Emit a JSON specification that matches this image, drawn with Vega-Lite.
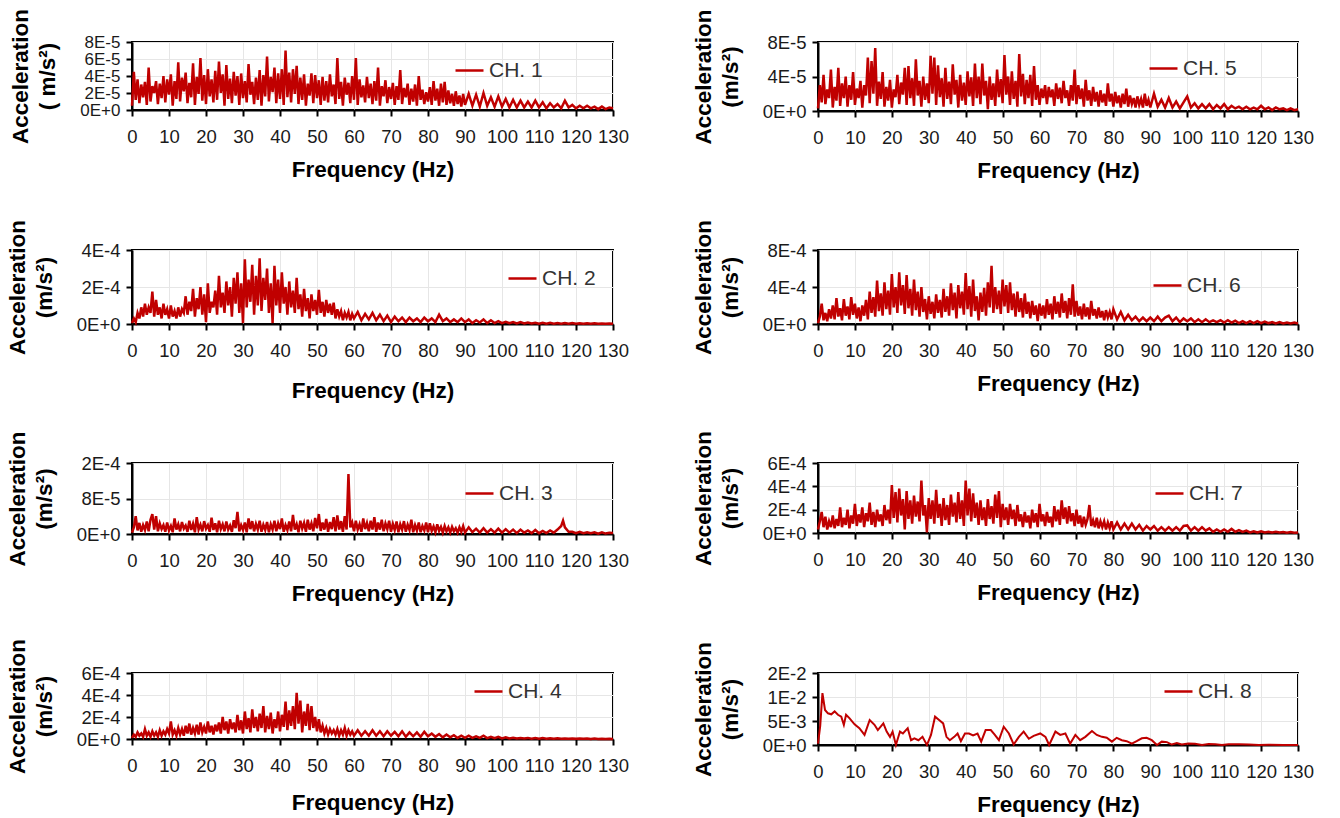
{
"$schema":"https://vega.github.io/schema/vega-lite/v6.json",
"background":"white",
"padding":{"left":5,"right":5,"top":7,"bottom":0},
"config":{
 "font":"Liberation Sans",
 "view":{"stroke":"#000","strokeWidth":2},
 "axis":{"labelFont":"Liberation Sans","labelFontSize":18.5,"labelColor":"#1a1a1a","titleFont":"Liberation Sans","titleFontSize":22.5,"titleFontWeight":"bold","titleColor":"#000","domainColor":"#000","domainWidth":2,"tickColor":"#000","tickWidth":2,"tickSize":6,"gridColor":"#e6e6e6","gridWidth":1,"labelOverlap":false,"labelFlush":false},
 "axisX":{"labelPadding":11,"titlePadding":13},
 "axisY":{"labelPadding":6,"titlePadding":20,"titleLineHeight":27},
 "legend":{"labelFont":"Liberation Sans","labelFontSize":21,"labelColor":"#333","symbolType":"stroke","symbolSize":784,"symbolStrokeWidth":2.5,"padding":0,"labelOffset":4}
},
"datasets":{
"c1":[{"f":0,"a":5e-6},{"f":0.5,"a":45e-6},{"f":1,"a":12e-6},{"f":1.5,"a":36e-6},{"f":2,"a":8e-6},{"f":2.5,"a":30e-6},{"f":3,"a":15e-6},{"f":3.5,"a":33e-6},{"f":4,"a":6e-6},{"f":4.5,"a":50e-6},{"f":5,"a":10e-6},{"f":5.5,"a":28e-6},{"f":6,"a":20e-6},{"f":6.5,"a":34e-6},{"f":7,"a":7e-6},{"f":7.5,"a":31e-6},{"f":8,"a":14e-6},{"f":8.5,"a":40e-6},{"f":9,"a":9e-6},{"f":9.5,"a":36e-6},{"f":10,"a":18e-6},{"f":10.5,"a":42e-6},{"f":11,"a":5e-6},{"f":11.5,"a":34e-6},{"f":12,"a":13e-6},{"f":12.5,"a":56e-6},{"f":13,"a":10e-6},{"f":13.5,"a":38e-6},{"f":14,"a":22e-6},{"f":14.5,"a":44e-6},{"f":15,"a":8e-6},{"f":15.5,"a":32e-6},{"f":16,"a":15e-6},{"f":16.5,"a":55e-6},{"f":17,"a":6e-6},{"f":17.5,"a":39e-6},{"f":18,"a":19e-6},{"f":18.5,"a":61e-6},{"f":19,"a":11e-6},{"f":19.5,"a":41e-6},{"f":20,"a":7e-6},{"f":20.5,"a":48e-6},{"f":21,"a":16e-6},{"f":21.5,"a":36e-6},{"f":22,"a":9e-6},{"f":22.5,"a":46e-6},{"f":23,"a":12e-6},{"f":23.5,"a":57e-6},{"f":24,"a":20e-6},{"f":24.5,"a":42e-6},{"f":25,"a":5e-6},{"f":25.5,"a":53e-6},{"f":26,"a":13e-6},{"f":26.5,"a":37e-6},{"f":27,"a":8e-6},{"f":27.5,"a":45e-6},{"f":28,"a":17e-6},{"f":28.5,"a":40e-6},{"f":29,"a":6e-6},{"f":29.5,"a":43e-6},{"f":30,"a":14e-6},{"f":30.5,"a":34e-6},{"f":31,"a":9e-6},{"f":31.5,"a":54e-6},{"f":32,"a":18e-6},{"f":32.5,"a":33e-6},{"f":33,"a":7e-6},{"f":33.5,"a":38e-6},{"f":34,"a":12e-6},{"f":34.5,"a":47e-6},{"f":35,"a":5e-6},{"f":35.5,"a":41e-6},{"f":36,"a":16e-6},{"f":36.5,"a":63e-6},{"f":37,"a":10e-6},{"f":37.5,"a":39e-6},{"f":38,"a":21e-6},{"f":38.5,"a":50e-6},{"f":39,"a":8e-6},{"f":39.5,"a":43e-6},{"f":40,"a":13e-6},{"f":40.5,"a":48e-6},{"f":41,"a":6e-6},{"f":41.5,"a":70e-6},{"f":42,"a":15e-6},{"f":42.5,"a":44e-6},{"f":43,"a":9e-6},{"f":43.5,"a":48e-6},{"f":44,"a":19e-6},{"f":44.5,"a":52e-6},{"f":45,"a":7e-6},{"f":45.5,"a":38e-6},{"f":46,"a":12e-6},{"f":46.5,"a":42e-6},{"f":47,"a":5e-6},{"f":47.5,"a":31e-6},{"f":48,"a":17e-6},{"f":48.5,"a":43e-6},{"f":49,"a":8e-6},{"f":49.5,"a":41e-6},{"f":50,"a":14e-6},{"f":50.5,"a":35e-6},{"f":51,"a":6e-6},{"f":51.5,"a":39e-6},{"f":52,"a":11e-6},{"f":52.5,"a":34e-6},{"f":53,"a":9e-6},{"f":53.5,"a":42e-6},{"f":54,"a":16e-6},{"f":54.5,"a":30e-6},{"f":55,"a":7e-6},{"f":55.5,"a":61e-6},{"f":56,"a":13e-6},{"f":56.5,"a":33e-6},{"f":57,"a":5e-6},{"f":57.5,"a":38e-6},{"f":58,"a":18e-6},{"f":58.5,"a":32e-6},{"f":59,"a":8e-6},{"f":59.5,"a":40e-6},{"f":60,"a":12e-6},{"f":60.5,"a":61e-6},{"f":61,"a":6e-6},{"f":61.5,"a":36e-6},{"f":62,"a":15e-6},{"f":62.5,"a":29e-6},{"f":63,"a":9e-6},{"f":63.5,"a":39e-6},{"f":64,"a":14e-6},{"f":64.5,"a":31e-6},{"f":65,"a":7e-6},{"f":65.5,"a":34e-6},{"f":66,"a":11e-6},{"f":66.5,"a":50e-6},{"f":67,"a":5e-6},{"f":67.5,"a":28e-6},{"f":68,"a":16e-6},{"f":68.5,"a":35e-6},{"f":69,"a":8e-6},{"f":69.5,"a":27e-6},{"f":70,"a":13e-6},{"f":70.5,"a":32e-6},{"f":71,"a":6e-6},{"f":71.5,"a":28e-6},{"f":72,"a":12e-6},{"f":72.5,"a":47e-6},{"f":73,"a":7e-6},{"f":73.5,"a":26e-6},{"f":74,"a":15e-6},{"f":74.5,"a":31e-6},{"f":75,"a":6e-6},{"f":75.5,"a":25e-6},{"f":76,"a":10e-6},{"f":76.5,"a":30e-6},{"f":77,"a":5e-6},{"f":77.5,"a":40e-6},{"f":78,"a":12e-6},{"f":78.5,"a":24e-6},{"f":79,"a":7e-6},{"f":79.5,"a":21e-6},{"f":80,"a":10e-6},{"f":80.5,"a":27e-6},{"f":81,"a":6e-6},{"f":81.5,"a":34e-6},{"f":82,"a":11e-6},{"f":82.5,"a":25e-6},{"f":83,"a":5e-6},{"f":83.5,"a":31e-6},{"f":84,"a":9e-6},{"f":84.5,"a":33e-6},{"f":85,"a":6e-6},{"f":85.5,"a":23e-6},{"f":86,"a":8e-6},{"f":86.5,"a":19e-6},{"f":87,"a":5e-6},{"f":87.5,"a":22e-6},{"f":88,"a":7e-6},{"f":88.5,"a":17e-6},{"f":89,"a":4e-6},{"f":89.5,"a":19e-6},{"f":90,"a":6e-6},{"f":91,"a":19e-6},{"f":92,"a":5e-6},{"f":93,"a":18e-6},{"f":94,"a":4e-6},{"f":95,"a":20e-6},{"f":96,"a":5e-6},{"f":97,"a":15e-6},{"f":98,"a":4e-6},{"f":99,"a":16e-6},{"f":100,"a":4e-6},{"f":101,"a":13e-6},{"f":102,"a":3e-6},{"f":103,"a":12e-6},{"f":104,"a":3e-6},{"f":105,"a":11e-6},{"f":106,"a":3e-6},{"f":107,"a":10e-6},{"f":108,"a":3e-6},{"f":109,"a":11e-6},{"f":110,"a":3e-6},{"f":111,"a":9e-6},{"f":112,"a":2e-6},{"f":113,"a":8e-6},{"f":114,"a":3e-6},{"f":115,"a":7e-6},{"f":116,"a":2e-6},{"f":117,"a":11e-6},{"f":118,"a":3e-6},{"f":119,"a":6e-6},{"f":120,"a":2e-6},{"f":121,"a":5e-6},{"f":122,"a":2e-6},{"f":123,"a":5e-6},{"f":124,"a":2e-6},{"f":125,"a":4e-6},{"f":126,"a":1e-6},{"f":127,"a":4e-6},{"f":128,"a":1e-6},{"f":129,"a":3e-6},{"f":130,"a":2e-6}],
"c5":[{"f":0,"a":3e-6},{"f":0.5,"a":30e-6},{"f":1,"a":10e-6},{"f":1.5,"a":42e-6},{"f":2,"a":8e-6},{"f":2.5,"a":25e-6},{"f":3,"a":15e-6},{"f":3.5,"a":48e-6},{"f":4,"a":4e-6},{"f":4.5,"a":28e-6},{"f":5,"a":12e-6},{"f":5.5,"a":50e-6},{"f":6,"a":6e-6},{"f":6.5,"a":32e-6},{"f":7,"a":15e-6},{"f":7.5,"a":40e-6},{"f":8,"a":5e-6},{"f":8.5,"a":30e-6},{"f":9,"a":13e-6},{"f":9.5,"a":45e-6},{"f":10,"a":7e-6},{"f":10.5,"a":26e-6},{"f":11,"a":15e-6},{"f":11.5,"a":35e-6},{"f":12,"a":4e-6},{"f":12.5,"a":30e-6},{"f":13,"a":18e-6},{"f":13.5,"a":62e-6},{"f":14,"a":9e-6},{"f":14.5,"a":58e-6},{"f":15,"a":20e-6},{"f":15.5,"a":73e-6},{"f":16,"a":6e-6},{"f":16.5,"a":34e-6},{"f":17,"a":14e-6},{"f":17.5,"a":45e-6},{"f":18,"a":5e-6},{"f":18.5,"a":28e-6},{"f":19,"a":12e-6},{"f":19.5,"a":36e-6},{"f":20,"a":4e-6},{"f":20.5,"a":25e-6},{"f":21,"a":16e-6},{"f":21.5,"a":42e-6},{"f":22,"a":8e-6},{"f":22.5,"a":33e-6},{"f":23,"a":19e-6},{"f":23.5,"a":50e-6},{"f":24,"a":7e-6},{"f":24.5,"a":52e-6},{"f":25,"a":15e-6},{"f":25.5,"a":38e-6},{"f":26,"a":6e-6},{"f":26.5,"a":60e-6},{"f":27,"a":18e-6},{"f":27.5,"a":35e-6},{"f":28,"a":5e-6},{"f":28.5,"a":40e-6},{"f":29,"a":13e-6},{"f":29.5,"a":32e-6},{"f":30,"a":9e-6},{"f":30.5,"a":64e-6},{"f":31,"a":20e-6},{"f":31.5,"a":62e-6},{"f":32,"a":7e-6},{"f":32.5,"a":53e-6},{"f":33,"a":16e-6},{"f":33.5,"a":38e-6},{"f":34,"a":5e-6},{"f":34.5,"a":50e-6},{"f":35,"a":14e-6},{"f":35.5,"a":34e-6},{"f":36,"a":8e-6},{"f":36.5,"a":54e-6},{"f":37,"a":19e-6},{"f":37.5,"a":36e-6},{"f":38,"a":4e-6},{"f":38.5,"a":42e-6},{"f":39,"a":12e-6},{"f":39.5,"a":33e-6},{"f":40,"a":7e-6},{"f":40.5,"a":46e-6},{"f":41,"a":17e-6},{"f":41.5,"a":39e-6},{"f":42,"a":6e-6},{"f":42.5,"a":55e-6},{"f":43,"a":15e-6},{"f":43.5,"a":40e-6},{"f":44,"a":8e-6},{"f":44.5,"a":55e-6},{"f":45,"a":18e-6},{"f":45.5,"a":35e-6},{"f":46,"a":2e-6},{"f":46.5,"a":40e-6},{"f":47,"a":13e-6},{"f":47.5,"a":32e-6},{"f":48,"a":6e-6},{"f":48.5,"a":48e-6},{"f":49,"a":16e-6},{"f":49.5,"a":37e-6},{"f":50,"a":9e-6},{"f":50.5,"a":65e-6},{"f":51,"a":19e-6},{"f":51.5,"a":40e-6},{"f":52,"a":7e-6},{"f":52.5,"a":46e-6},{"f":53,"a":14e-6},{"f":53.5,"a":35e-6},{"f":54,"a":5e-6},{"f":54.5,"a":66e-6},{"f":55,"a":17e-6},{"f":55.5,"a":43e-6},{"f":56,"a":8e-6},{"f":56.5,"a":36e-6},{"f":57,"a":15e-6},{"f":57.5,"a":42e-6},{"f":58,"a":6e-6},{"f":58.5,"a":52e-6},{"f":59,"a":13e-6},{"f":59.5,"a":30e-6},{"f":60,"a":7e-6},{"f":60.5,"a":26e-6},{"f":61,"a":15e-6},{"f":61.5,"a":30e-6},{"f":62,"a":8e-6},{"f":62.5,"a":28e-6},{"f":63,"a":16e-6},{"f":63.5,"a":25e-6},{"f":64,"a":6e-6},{"f":64.5,"a":32e-6},{"f":65,"a":14e-6},{"f":65.5,"a":27e-6},{"f":66,"a":9e-6},{"f":66.5,"a":35e-6},{"f":67,"a":15e-6},{"f":67.5,"a":24e-6},{"f":68,"a":6e-6},{"f":68.5,"a":30e-6},{"f":69,"a":12e-6},{"f":69.5,"a":48e-6},{"f":70,"a":8e-6},{"f":70.5,"a":30e-6},{"f":71,"a":14e-6},{"f":71.5,"a":26e-6},{"f":72,"a":5e-6},{"f":72.5,"a":36e-6},{"f":73,"a":12e-6},{"f":73.5,"a":24e-6},{"f":74,"a":6e-6},{"f":74.5,"a":28e-6},{"f":75,"a":11e-6},{"f":75.5,"a":22e-6},{"f":76,"a":5e-6},{"f":76.5,"a":24e-6},{"f":77,"a":10e-6},{"f":77.5,"a":20e-6},{"f":78,"a":6e-6},{"f":78.5,"a":32e-6},{"f":79,"a":11e-6},{"f":79.5,"a":20e-6},{"f":80,"a":5e-6},{"f":80.5,"a":22e-6},{"f":81,"a":9e-6},{"f":81.5,"a":18e-6},{"f":82,"a":4e-6},{"f":82.5,"a":20e-6},{"f":83,"a":8e-6},{"f":83.5,"a":26e-6},{"f":84,"a":5e-6},{"f":84.5,"a":18e-6},{"f":85,"a":8e-6},{"f":85.5,"a":15e-6},{"f":86,"a":4e-6},{"f":86.5,"a":17e-6},{"f":87,"a":7e-6},{"f":87.5,"a":14e-6},{"f":88,"a":4e-6},{"f":88.5,"a":20e-6},{"f":89,"a":6e-6},{"f":89.5,"a":13e-6},{"f":90,"a":4e-6},{"f":91,"a":20e-6},{"f":92,"a":5e-6},{"f":93,"a":13e-6},{"f":94,"a":4e-6},{"f":95,"a":15e-6},{"f":96,"a":4e-6},{"f":97,"a":11e-6},{"f":98,"a":3e-6},{"f":99,"a":10e-6},{"f":100,"a":17e-6},{"f":101,"a":4e-6},{"f":102,"a":9e-6},{"f":103,"a":3e-6},{"f":104,"a":8e-6},{"f":105,"a":3e-6},{"f":106,"a":8e-6},{"f":107,"a":2e-6},{"f":108,"a":7e-6},{"f":109,"a":3e-6},{"f":110,"a":8e-6},{"f":111,"a":2e-6},{"f":112,"a":6e-6},{"f":113,"a":3e-6},{"f":114,"a":5e-6},{"f":115,"a":2e-6},{"f":116,"a":5e-6},{"f":117,"a":2e-6},{"f":118,"a":4e-6},{"f":119,"a":2e-6},{"f":120,"a":6e-6},{"f":121,"a":2e-6},{"f":122,"a":4e-6},{"f":123,"a":1e-6},{"f":124,"a":4e-6},{"f":125,"a":2e-6},{"f":126,"a":3e-6},{"f":127,"a":1e-6},{"f":128,"a":3e-6},{"f":129,"a":1e-6},{"f":130,"a":2e-6}],
"c2":[{"f":0,"a":5e-6},{"f":0.5,"a":30e-6},{"f":1,"a":10e-6},{"f":1.5,"a":60e-6},{"f":2,"a":30e-6},{"f":2.5,"a":90e-6},{"f":3,"a":40e-6},{"f":3.5,"a":110e-6},{"f":4,"a":50e-6},{"f":4.5,"a":90e-6},{"f":5,"a":60e-6},{"f":5.5,"a":175e-6},{"f":6,"a":40e-6},{"f":6.5,"a":130e-6},{"f":7,"a":50e-6},{"f":7.5,"a":90e-6},{"f":8,"a":30e-6},{"f":8.5,"a":110e-6},{"f":9,"a":50e-6},{"f":9.5,"a":80e-6},{"f":10,"a":30e-6},{"f":10.5,"a":100e-6},{"f":11,"a":40e-6},{"f":11.5,"a":70e-6},{"f":12,"a":30e-6},{"f":12.5,"a":90e-6},{"f":13,"a":40e-6},{"f":13.5,"a":80e-6},{"f":14,"a":60e-6},{"f":14.5,"a":150e-6},{"f":15,"a":50e-6},{"f":15.5,"a":120e-6},{"f":16,"a":70e-6},{"f":16.5,"a":190e-6},{"f":17,"a":40e-6},{"f":17.5,"a":140e-6},{"f":18,"a":80e-6},{"f":18.5,"a":200e-6},{"f":19,"a":50e-6},{"f":19.5,"a":160e-6},{"f":20,"a":10e-6},{"f":20.5,"a":220e-6},{"f":21,"a":60e-6},{"f":21.5,"a":120e-6},{"f":22,"a":90e-6},{"f":22.5,"a":180e-6},{"f":23,"a":50e-6},{"f":23.5,"a":260e-6},{"f":24,"a":90e-6},{"f":24.5,"a":170e-6},{"f":25,"a":60e-6},{"f":25.5,"a":230e-6},{"f":26,"a":100e-6},{"f":26.5,"a":200e-6},{"f":27,"a":40e-6},{"f":27.5,"a":250e-6},{"f":28,"a":110e-6},{"f":28.5,"a":280e-6},{"f":29,"a":60e-6},{"f":29.5,"a":220e-6},{"f":30,"a":5e-6},{"f":30.5,"a":350e-6},{"f":31,"a":90e-6},{"f":31.5,"a":240e-6},{"f":32,"a":120e-6},{"f":32.5,"a":320e-6},{"f":33,"a":50e-6},{"f":33.5,"a":260e-6},{"f":34,"a":100e-6},{"f":34.5,"a":355e-6},{"f":35,"a":70e-6},{"f":35.5,"a":250e-6},{"f":36,"a":130e-6},{"f":36.5,"a":300e-6},{"f":37,"a":60e-6},{"f":37.5,"a":220e-6},{"f":38,"a":5e-6},{"f":38.5,"a":315e-6},{"f":39,"a":100e-6},{"f":39.5,"a":240e-6},{"f":40,"a":60e-6},{"f":40.5,"a":280e-6},{"f":41,"a":110e-6},{"f":41.5,"a":200e-6},{"f":42,"a":50e-6},{"f":42.5,"a":230e-6},{"f":43,"a":90e-6},{"f":43.5,"a":180e-6},{"f":44,"a":60e-6},{"f":44.5,"a":250e-6},{"f":45,"a":80e-6},{"f":45.5,"a":160e-6},{"f":46,"a":40e-6},{"f":46.5,"a":190e-6},{"f":47,"a":70e-6},{"f":47.5,"a":140e-6},{"f":48,"a":30e-6},{"f":48.5,"a":160e-6},{"f":49,"a":70e-6},{"f":49.5,"a":130e-6},{"f":50,"a":50e-6},{"f":50.5,"a":185e-6},{"f":51,"a":60e-6},{"f":51.5,"a":120e-6},{"f":52,"a":40e-6},{"f":52.5,"a":130e-6},{"f":53,"a":60e-6},{"f":53.5,"a":110e-6},{"f":54,"a":50e-6},{"f":54.5,"a":115e-6},{"f":55,"a":30e-6},{"f":55.5,"a":80e-6},{"f":56,"a":40e-6},{"f":56.5,"a":70e-6},{"f":57,"a":20e-6},{"f":57.5,"a":60e-6},{"f":58,"a":35e-6},{"f":58.5,"a":65e-6},{"f":59,"a":20e-6},{"f":59.5,"a":55e-6},{"f":60,"a":30e-6},{"f":61,"a":65e-6},{"f":62,"a":20e-6},{"f":63,"a":55e-6},{"f":64,"a":25e-6},{"f":65,"a":60e-6},{"f":66,"a":20e-6},{"f":67,"a":50e-6},{"f":68,"a":15e-6},{"f":69,"a":45e-6},{"f":70,"a":10e-6},{"f":71,"a":40e-6},{"f":72,"a":15e-6},{"f":73,"a":35e-6},{"f":74,"a":10e-6},{"f":75,"a":35e-6},{"f":76,"a":15e-6},{"f":77,"a":30e-6},{"f":78,"a":10e-6},{"f":79,"a":35e-6},{"f":80,"a":15e-6},{"f":81,"a":30e-6},{"f":82,"a":10e-6},{"f":83,"a":50e-6},{"f":84,"a":15e-6},{"f":85,"a":30e-6},{"f":86,"a":10e-6},{"f":87,"a":25e-6},{"f":88,"a":10e-6},{"f":89,"a":30e-6},{"f":90,"a":10e-6},{"f":91,"a":25e-6},{"f":92,"a":5e-6},{"f":93,"a":20e-6},{"f":94,"a":8e-6},{"f":95,"a":25e-6},{"f":96,"a":5e-6},{"f":97,"a":20e-6},{"f":98,"a":5e-6},{"f":99,"a":15e-6},{"f":100,"a":5e-6},{"f":101,"a":12e-6},{"f":102,"a":4e-6},{"f":103,"a":10e-6},{"f":104,"a":3e-6},{"f":105,"a":10e-6},{"f":106,"a":3e-6},{"f":107,"a":8e-6},{"f":108,"a":3e-6},{"f":109,"a":7e-6},{"f":110,"a":2e-6},{"f":111,"a":7e-6},{"f":112,"a":2e-6},{"f":113,"a":6e-6},{"f":114,"a":2e-6},{"f":115,"a":5e-6},{"f":116,"a":2e-6},{"f":117,"a":5e-6},{"f":118,"a":2e-6},{"f":119,"a":5e-6},{"f":120,"a":2e-6},{"f":121,"a":4e-6},{"f":122,"a":1e-6},{"f":123,"a":4e-6},{"f":124,"a":1e-6},{"f":125,"a":4e-6},{"f":126,"a":1e-6},{"f":127,"a":3e-6},{"f":128,"a":1e-6},{"f":129,"a":3e-6},{"f":130,"a":1e-6}],
"c6":[{"f":0,"a":10e-6},{"f":0.5,"a":80e-6},{"f":1,"a":220e-6},{"f":1.5,"a":40e-6},{"f":2,"a":120e-6},{"f":2.5,"a":30e-6},{"f":3,"a":160e-6},{"f":3.5,"a":60e-6},{"f":4,"a":200e-6},{"f":4.5,"a":50e-6},{"f":5,"a":280e-6},{"f":5.5,"a":80e-6},{"f":6,"a":170e-6},{"f":6.5,"a":40e-6},{"f":7,"a":270e-6},{"f":7.5,"a":90e-6},{"f":8,"a":190e-6},{"f":8.5,"a":50e-6},{"f":9,"a":290e-6},{"f":9.5,"a":100e-6},{"f":10,"a":220e-6},{"f":10.5,"a":60e-6},{"f":11,"a":180e-6},{"f":11.5,"a":30e-6},{"f":12,"a":200e-6},{"f":12.5,"a":90e-6},{"f":13,"a":260e-6},{"f":13.5,"a":50e-6},{"f":14,"a":350e-6},{"f":14.5,"a":120e-6},{"f":15,"a":290e-6},{"f":15.5,"a":80e-6},{"f":16,"a":470e-6},{"f":16.5,"a":140e-6},{"f":17,"a":330e-6},{"f":17.5,"a":90e-6},{"f":18,"a":450e-6},{"f":18.5,"a":160e-6},{"f":19,"a":360e-6},{"f":19.5,"a":100e-6},{"f":20,"a":540e-6},{"f":20.5,"a":180e-6},{"f":21,"a":400e-6},{"f":21.5,"a":120e-6},{"f":22,"a":560e-6},{"f":22.5,"a":200e-6},{"f":23,"a":420e-6},{"f":23.5,"a":110e-6},{"f":24,"a":530e-6},{"f":24.5,"a":170e-6},{"f":25,"a":380e-6},{"f":25.5,"a":90e-6},{"f":26,"a":480e-6},{"f":26.5,"a":150e-6},{"f":27,"a":350e-6},{"f":27.5,"a":80e-6},{"f":28,"a":400e-6},{"f":28.5,"a":130e-6},{"f":29,"a":270e-6},{"f":29.5,"a":50e-6},{"f":30,"a":300e-6},{"f":30.5,"a":110e-6},{"f":31,"a":240e-6},{"f":31.5,"a":60e-6},{"f":32,"a":320e-6},{"f":32.5,"a":120e-6},{"f":33,"a":260e-6},{"f":33.5,"a":70e-6},{"f":34,"a":380e-6},{"f":34.5,"a":130e-6},{"f":35,"a":300e-6},{"f":35.5,"a":90e-6},{"f":36,"a":440e-6},{"f":36.5,"a":150e-6},{"f":37,"a":340e-6},{"f":37.5,"a":60e-6},{"f":38,"a":420e-6},{"f":38.5,"a":170e-6},{"f":39,"a":350e-6},{"f":39.5,"a":100e-6},{"f":40,"a":550e-6},{"f":40.5,"a":160e-6},{"f":41,"a":410e-6},{"f":41.5,"a":80e-6},{"f":42,"a":480e-6},{"f":42.5,"a":140e-6},{"f":43,"a":300e-6},{"f":43.5,"a":40e-6},{"f":44,"a":340e-6},{"f":44.5,"a":130e-6},{"f":45,"a":390e-6},{"f":45.5,"a":90e-6},{"f":46,"a":450e-6},{"f":46.5,"a":180e-6},{"f":47,"a":630e-6},{"f":47.5,"a":120e-6},{"f":48,"a":400e-6},{"f":48.5,"a":160e-6},{"f":49,"a":360e-6},{"f":49.5,"a":110e-6},{"f":50,"a":480e-6},{"f":50.5,"a":190e-6},{"f":51,"a":420e-6},{"f":51.5,"a":120e-6},{"f":52,"a":450e-6},{"f":52.5,"a":150e-6},{"f":53,"a":330e-6},{"f":53.5,"a":80e-6},{"f":54,"a":350e-6},{"f":54.5,"a":130e-6},{"f":55,"a":280e-6},{"f":55.5,"a":70e-6},{"f":56,"a":330e-6},{"f":56.5,"a":110e-6},{"f":57,"a":240e-6},{"f":57.5,"a":60e-6},{"f":58,"a":250e-6},{"f":58.5,"a":100e-6},{"f":59,"a":200e-6},{"f":59.5,"a":30e-6},{"f":60,"a":220e-6},{"f":60.5,"a":90e-6},{"f":61,"a":200e-6},{"f":61.5,"a":60e-6},{"f":62,"a":270e-6},{"f":62.5,"a":100e-6},{"f":63,"a":220e-6},{"f":63.5,"a":50e-6},{"f":64,"a":300e-6},{"f":64.5,"a":110e-6},{"f":65,"a":240e-6},{"f":65.5,"a":70e-6},{"f":66,"a":330e-6},{"f":66.5,"a":120e-6},{"f":67,"a":250e-6},{"f":67.5,"a":60e-6},{"f":68,"a":280e-6},{"f":68.5,"a":100e-6},{"f":69,"a":430e-6},{"f":69.5,"a":80e-6},{"f":70,"a":250e-6},{"f":70.5,"a":90e-6},{"f":71,"a":190e-6},{"f":71.5,"a":50e-6},{"f":72,"a":220e-6},{"f":72.5,"a":80e-6},{"f":73,"a":180e-6},{"f":73.5,"a":50e-6},{"f":74,"a":250e-6},{"f":74.5,"a":90e-6},{"f":75,"a":160e-6},{"f":75.5,"a":60e-6},{"f":76,"a":180e-6},{"f":76.5,"a":70e-6},{"f":77,"a":140e-6},{"f":77.5,"a":40e-6},{"f":78,"a":150e-6},{"f":78.5,"a":70e-6},{"f":79,"a":130e-6},{"f":79.5,"a":50e-6},{"f":80,"a":160e-6},{"f":81,"a":50e-6},{"f":82,"a":130e-6},{"f":83,"a":40e-6},{"f":84,"a":100e-6},{"f":85,"a":40e-6},{"f":86,"a":80e-6},{"f":87,"a":30e-6},{"f":88,"a":70e-6},{"f":89,"a":30e-6},{"f":90,"a":70e-6},{"f":91,"a":30e-6},{"f":92,"a":80e-6},{"f":93,"a":30e-6},{"f":94,"a":70e-6},{"f":95,"a":90e-6},{"f":96,"a":30e-6},{"f":97,"a":70e-6},{"f":98,"a":20e-6},{"f":99,"a":60e-6},{"f":100,"a":30e-6},{"f":101,"a":60e-6},{"f":102,"a":20e-6},{"f":103,"a":50e-6},{"f":104,"a":20e-6},{"f":105,"a":50e-6},{"f":106,"a":20e-6},{"f":107,"a":40e-6},{"f":108,"a":20e-6},{"f":109,"a":40e-6},{"f":110,"a":15e-6},{"f":111,"a":40e-6},{"f":112,"a":15e-6},{"f":113,"a":35e-6},{"f":114,"a":10e-6},{"f":115,"a":30e-6},{"f":116,"a":10e-6},{"f":117,"a":30e-6},{"f":118,"a":10e-6},{"f":119,"a":30e-6},{"f":120,"a":10e-6},{"f":121,"a":25e-6},{"f":122,"a":10e-6},{"f":123,"a":20e-6},{"f":124,"a":5e-6},{"f":125,"a":20e-6},{"f":126,"a":5e-6},{"f":127,"a":15e-6},{"f":128,"a":5e-6},{"f":129,"a":15e-6},{"f":130,"a":5e-6}],
"c3":[{"f":0,"a":3e-6},{"f":0.5,"a":15e-6},{"f":1,"a":40e-6},{"f":1.5,"a":8e-6},{"f":2,"a":25e-6},{"f":2.5,"a":5e-6},{"f":3,"a":20e-6},{"f":3.5,"a":9e-6},{"f":4,"a":28e-6},{"f":4.5,"a":6e-6},{"f":5,"a":32e-6},{"f":5.5,"a":45e-6},{"f":6,"a":10e-6},{"f":6.5,"a":40e-6},{"f":7,"a":6e-6},{"f":7.5,"a":24e-6},{"f":8,"a":11e-6},{"f":8.5,"a":20e-6},{"f":9,"a":5e-6},{"f":9.5,"a":26e-6},{"f":10,"a":8e-6},{"f":10.5,"a":18e-6},{"f":11,"a":4e-6},{"f":11.5,"a":35e-6},{"f":12,"a":10e-6},{"f":12.5,"a":22e-6},{"f":13,"a":6e-6},{"f":13.5,"a":27e-6},{"f":14,"a":12e-6},{"f":14.5,"a":19e-6},{"f":15,"a":5e-6},{"f":15.5,"a":30e-6},{"f":16,"a":9e-6},{"f":16.5,"a":23e-6},{"f":17,"a":4e-6},{"f":17.5,"a":38e-6},{"f":18,"a":10e-6},{"f":18.5,"a":21e-6},{"f":19,"a":6e-6},{"f":19.5,"a":29e-6},{"f":20,"a":12e-6},{"f":20.5,"a":20e-6},{"f":21,"a":5e-6},{"f":21.5,"a":37e-6},{"f":22,"a":9e-6},{"f":22.5,"a":24e-6},{"f":23,"a":4e-6},{"f":23.5,"a":30e-6},{"f":24,"a":11e-6},{"f":24.5,"a":22e-6},{"f":25,"a":6e-6},{"f":25.5,"a":28e-6},{"f":26,"a":10e-6},{"f":26.5,"a":19e-6},{"f":27,"a":5e-6},{"f":27.5,"a":31e-6},{"f":28,"a":13e-6},{"f":28.5,"a":50e-6},{"f":29,"a":6e-6},{"f":29.5,"a":20e-6},{"f":30,"a":9e-6},{"f":30.5,"a":26e-6},{"f":31,"a":4e-6},{"f":31.5,"a":35e-6},{"f":32,"a":11e-6},{"f":32.5,"a":29e-6},{"f":33,"a":6e-6},{"f":33.5,"a":23e-6},{"f":34,"a":10e-6},{"f":34.5,"a":30e-6},{"f":35,"a":5e-6},{"f":35.5,"a":21e-6},{"f":36,"a":9e-6},{"f":36.5,"a":27e-6},{"f":37,"a":4e-6},{"f":37.5,"a":22e-6},{"f":38,"a":10e-6},{"f":38.5,"a":30e-6},{"f":39,"a":6e-6},{"f":39.5,"a":24e-6},{"f":40,"a":11e-6},{"f":40.5,"a":35e-6},{"f":41,"a":5e-6},{"f":41.5,"a":20e-6},{"f":42,"a":9e-6},{"f":42.5,"a":28e-6},{"f":43,"a":6e-6},{"f":43.5,"a":43e-6},{"f":44,"a":10e-6},{"f":44.5,"a":22e-6},{"f":45,"a":4e-6},{"f":45.5,"a":30e-6},{"f":46,"a":12e-6},{"f":46.5,"a":25e-6},{"f":47,"a":5e-6},{"f":47.5,"a":32e-6},{"f":48,"a":10e-6},{"f":48.5,"a":24e-6},{"f":49,"a":6e-6},{"f":49.5,"a":36e-6},{"f":50,"a":13e-6},{"f":50.5,"a":45e-6},{"f":51,"a":7e-6},{"f":51.5,"a":26e-6},{"f":52,"a":10e-6},{"f":52.5,"a":34e-6},{"f":53,"a":5e-6},{"f":53.5,"a":27e-6},{"f":54,"a":11e-6},{"f":54.5,"a":38e-6},{"f":55,"a":6e-6},{"f":55.5,"a":42e-6},{"f":56,"a":10e-6},{"f":56.5,"a":29e-6},{"f":57,"a":5e-6},{"f":57.5,"a":40e-6},{"f":58,"a":10e-6},{"f":58.5,"a":135e-6},{"f":59,"a":15e-6},{"f":59.5,"a":26e-6},{"f":60,"a":6e-6},{"f":60.5,"a":30e-6},{"f":61,"a":10e-6},{"f":61.5,"a":22e-6},{"f":62,"a":5e-6},{"f":62.5,"a":35e-6},{"f":63,"a":11e-6},{"f":63.5,"a":25e-6},{"f":64,"a":6e-6},{"f":64.5,"a":30e-6},{"f":65,"a":10e-6},{"f":65.5,"a":38e-6},{"f":66,"a":5e-6},{"f":66.5,"a":26e-6},{"f":67,"a":10e-6},{"f":67.5,"a":32e-6},{"f":68,"a":6e-6},{"f":68.5,"a":24e-6},{"f":69,"a":11e-6},{"f":69.5,"a":30e-6},{"f":70,"a":5e-6},{"f":70.5,"a":23e-6},{"f":71,"a":9e-6},{"f":71.5,"a":28e-6},{"f":72,"a":4e-6},{"f":72.5,"a":22e-6},{"f":73,"a":10e-6},{"f":73.5,"a":29e-6},{"f":74,"a":5e-6},{"f":74.5,"a":21e-6},{"f":75,"a":9e-6},{"f":75.5,"a":32e-6},{"f":76,"a":4e-6},{"f":76.5,"a":20e-6},{"f":77,"a":8e-6},{"f":77.5,"a":26e-6},{"f":78,"a":4e-6},{"f":78.5,"a":18e-6},{"f":79,"a":8e-6},{"f":79.5,"a":26e-6},{"f":80,"a":4e-6},{"f":80.5,"a":24e-6},{"f":81,"a":7e-6},{"f":81.5,"a":17e-6},{"f":82,"a":4e-6},{"f":82.5,"a":22e-6},{"f":83,"a":7e-6},{"f":83.5,"a":16e-6},{"f":84,"a":3e-6},{"f":84.5,"a":18e-6},{"f":85,"a":6e-6},{"f":85.5,"a":15e-6},{"f":86,"a":3e-6},{"f":86.5,"a":16e-6},{"f":87,"a":6e-6},{"f":87.5,"a":13e-6},{"f":88,"a":3e-6},{"f":88.5,"a":15e-6},{"f":89,"a":5e-6},{"f":89.5,"a":18e-6},{"f":90,"a":3e-6},{"f":91,"a":15e-6},{"f":92,"a":4e-6},{"f":93,"a":12e-6},{"f":94,"a":3e-6},{"f":95,"a":13e-6},{"f":96,"a":3e-6},{"f":97,"a":11e-6},{"f":98,"a":3e-6},{"f":99,"a":12e-6},{"f":100,"a":3e-6},{"f":101,"a":11e-6},{"f":102,"a":3e-6},{"f":103,"a":10e-6},{"f":104,"a":2e-6},{"f":105,"a":10e-6},{"f":106,"a":3e-6},{"f":107,"a":8e-6},{"f":108,"a":2e-6},{"f":109,"a":9e-6},{"f":110,"a":2e-6},{"f":111,"a":7e-6},{"f":112,"a":2e-6},{"f":113,"a":8e-6},{"f":114,"a":3e-6},{"f":115,"a":10e-6},{"f":116,"a":18e-6},{"f":116.5,"a":30e-6},{"f":117,"a":15e-6},{"f":118,"a":5e-6},{"f":119,"a":5e-6},{"f":120,"a":2e-6},{"f":121,"a":5e-6},{"f":122,"a":2e-6},{"f":123,"a":4e-6},{"f":124,"a":2e-6},{"f":125,"a":4e-6},{"f":126,"a":1e-6},{"f":127,"a":4e-6},{"f":128,"a":1e-6},{"f":129,"a":3e-6},{"f":130,"a":2e-6}],
"c7":[{"f":0,"a":30e-6},{"f":0.5,"a":100e-6},{"f":1,"a":180e-6},{"f":1.5,"a":50e-6},{"f":2,"a":140e-6},{"f":2.5,"a":30e-6},{"f":3,"a":100e-6},{"f":3.5,"a":50e-6},{"f":4,"a":150e-6},{"f":4.5,"a":40e-6},{"f":5,"a":120e-6},{"f":5.5,"a":60e-6},{"f":6,"a":220e-6},{"f":6.5,"a":50e-6},{"f":7,"a":130e-6},{"f":7.5,"a":70e-6},{"f":8,"a":200e-6},{"f":8.5,"a":40e-6},{"f":9,"a":150e-6},{"f":9.5,"a":80e-6},{"f":10,"a":250e-6},{"f":10.5,"a":60e-6},{"f":11,"a":160e-6},{"f":11.5,"a":90e-6},{"f":12,"a":220e-6},{"f":12.5,"a":50e-6},{"f":13,"a":170e-6},{"f":13.5,"a":100e-6},{"f":14,"a":260e-6},{"f":14.5,"a":70e-6},{"f":15,"a":180e-6},{"f":15.5,"a":50e-6},{"f":16,"a":200e-6},{"f":16.5,"a":100e-6},{"f":17,"a":160e-6},{"f":17.5,"a":60e-6},{"f":18,"a":240e-6},{"f":18.5,"a":110e-6},{"f":19,"a":200e-6},{"f":19.5,"a":80e-6},{"f":20,"a":410e-6},{"f":20.5,"a":130e-6},{"f":21,"a":350e-6},{"f":21.5,"a":90e-6},{"f":22,"a":380e-6},{"f":22.5,"a":150e-6},{"f":23,"a":290e-6},{"f":23.5,"a":30e-6},{"f":24,"a":360e-6},{"f":24.5,"a":120e-6},{"f":25,"a":280e-6},{"f":25.5,"a":80e-6},{"f":26,"a":320e-6},{"f":26.5,"a":140e-6},{"f":27,"a":270e-6},{"f":27.5,"a":100e-6},{"f":28,"a":450e-6},{"f":28.5,"a":150e-6},{"f":29,"a":240e-6},{"f":29.5,"a":5e-6},{"f":30,"a":300e-6},{"f":30.5,"a":120e-6},{"f":31,"a":280e-6},{"f":31.5,"a":80e-6},{"f":32,"a":370e-6},{"f":32.5,"a":130e-6},{"f":33,"a":250e-6},{"f":33.5,"a":60e-6},{"f":34,"a":300e-6},{"f":34.5,"a":110e-6},{"f":35,"a":240e-6},{"f":35.5,"a":70e-6},{"f":36,"a":330e-6},{"f":36.5,"a":140e-6},{"f":37,"a":260e-6},{"f":37.5,"a":90e-6},{"f":38,"a":350e-6},{"f":38.5,"a":120e-6},{"f":39,"a":280e-6},{"f":39.5,"a":60e-6},{"f":40,"a":450e-6},{"f":40.5,"a":150e-6},{"f":41,"a":380e-6},{"f":41.5,"a":100e-6},{"f":42,"a":340e-6},{"f":42.5,"a":130e-6},{"f":43,"a":260e-6},{"f":43.5,"a":70e-6},{"f":44,"a":280e-6},{"f":44.5,"a":110e-6},{"f":45,"a":220e-6},{"f":45.5,"a":60e-6},{"f":46,"a":290e-6},{"f":46.5,"a":120e-6},{"f":47,"a":230e-6},{"f":47.5,"a":80e-6},{"f":48,"a":330e-6},{"f":48.5,"a":130e-6},{"f":49,"a":360e-6},{"f":49.5,"a":50e-6},{"f":50,"a":250e-6},{"f":50.5,"a":110e-6},{"f":51,"a":220e-6},{"f":51.5,"a":70e-6},{"f":52,"a":250e-6},{"f":52.5,"a":120e-6},{"f":53,"a":200e-6},{"f":53.5,"a":60e-6},{"f":54,"a":240e-6},{"f":54.5,"a":100e-6},{"f":55,"a":160e-6},{"f":55.5,"a":50e-6},{"f":56,"a":180e-6},{"f":56.5,"a":90e-6},{"f":57,"a":150e-6},{"f":57.5,"a":40e-6},{"f":58,"a":200e-6},{"f":58.5,"a":90e-6},{"f":59,"a":170e-6},{"f":59.5,"a":50e-6},{"f":60,"a":250e-6},{"f":60.5,"a":100e-6},{"f":61,"a":160e-6},{"f":61.5,"a":60e-6},{"f":62,"a":180e-6},{"f":62.5,"a":90e-6},{"f":63,"a":140e-6},{"f":63.5,"a":50e-6},{"f":64,"a":230e-6},{"f":64.5,"a":100e-6},{"f":65,"a":200e-6},{"f":65.5,"a":70e-6},{"f":66,"a":280e-6},{"f":66.5,"a":120e-6},{"f":67,"a":220e-6},{"f":67.5,"a":80e-6},{"f":68,"a":230e-6},{"f":68.5,"a":100e-6},{"f":69,"a":170e-6},{"f":69.5,"a":60e-6},{"f":70,"a":200e-6},{"f":70.5,"a":80e-6},{"f":71,"a":150e-6},{"f":71.5,"a":50e-6},{"f":72,"a":140e-6},{"f":72.5,"a":70e-6},{"f":73,"a":120e-6},{"f":73.5,"a":240e-6},{"f":74,"a":60e-6},{"f":74.5,"a":110e-6},{"f":75,"a":50e-6},{"f":75.5,"a":130e-6},{"f":76,"a":40e-6},{"f":76.5,"a":100e-6},{"f":77,"a":50e-6},{"f":77.5,"a":100e-6},{"f":78,"a":30e-6},{"f":78.5,"a":90e-6},{"f":79,"a":40e-6},{"f":79.5,"a":100e-6},{"f":80,"a":30e-6},{"f":81,"a":90e-6},{"f":82,"a":30e-6},{"f":83,"a":80e-6},{"f":84,"a":30e-6},{"f":85,"a":80e-6},{"f":86,"a":30e-6},{"f":87,"a":70e-6},{"f":88,"a":20e-6},{"f":89,"a":60e-6},{"f":90,"a":30e-6},{"f":91,"a":60e-6},{"f":92,"a":20e-6},{"f":93,"a":50e-6},{"f":94,"a":20e-6},{"f":95,"a":50e-6},{"f":96,"a":20e-6},{"f":97,"a":50e-6},{"f":98,"a":20e-6},{"f":99,"a":60e-6},{"f":100,"a":65e-6},{"f":101,"a":20e-6},{"f":102,"a":50e-6},{"f":103,"a":20e-6},{"f":104,"a":50e-6},{"f":105,"a":20e-6},{"f":106,"a":40e-6},{"f":107,"a":10e-6},{"f":108,"a":30e-6},{"f":109,"a":10e-6},{"f":110,"a":30e-6},{"f":111,"a":10e-6},{"f":112,"a":35e-6},{"f":113,"a":10e-6},{"f":114,"a":25e-6},{"f":115,"a":10e-6},{"f":116,"a":20e-6},{"f":117,"a":5e-6},{"f":118,"a":15e-6},{"f":119,"a":5e-6},{"f":120,"a":15e-6},{"f":121,"a":5e-6},{"f":122,"a":10e-6},{"f":123,"a":4e-6},{"f":124,"a":10e-6},{"f":125,"a":4e-6},{"f":126,"a":8e-6},{"f":127,"a":3e-6},{"f":128,"a":8e-6},{"f":129,"a":3e-6},{"f":130,"a":5e-6}],
"c4":[{"f":0,"a":10e-6},{"f":0.5,"a":40e-6},{"f":1,"a":20e-6},{"f":1.5,"a":60e-6},{"f":2,"a":30e-6},{"f":2.5,"a":50e-6},{"f":3,"a":20e-6},{"f":3.5,"a":90e-6},{"f":4,"a":30e-6},{"f":4.5,"a":60e-6},{"f":5,"a":20e-6},{"f":5.5,"a":70e-6},{"f":6,"a":30e-6},{"f":6.5,"a":60e-6},{"f":7,"a":20e-6},{"f":7.5,"a":80e-6},{"f":8,"a":30e-6},{"f":8.5,"a":70e-6},{"f":9,"a":40e-6},{"f":9.5,"a":90e-6},{"f":10,"a":50e-6},{"f":10.5,"a":160e-6},{"f":11,"a":40e-6},{"f":11.5,"a":80e-6},{"f":12,"a":30e-6},{"f":12.5,"a":100e-6},{"f":13,"a":40e-6},{"f":13.5,"a":90e-6},{"f":14,"a":30e-6},{"f":14.5,"a":120e-6},{"f":15,"a":50e-6},{"f":15.5,"a":140e-6},{"f":16,"a":40e-6},{"f":16.5,"a":100e-6},{"f":17,"a":50e-6},{"f":17.5,"a":130e-6},{"f":18,"a":40e-6},{"f":18.5,"a":150e-6},{"f":19,"a":60e-6},{"f":19.5,"a":110e-6},{"f":20,"a":50e-6},{"f":20.5,"a":160e-6},{"f":21,"a":60e-6},{"f":21.5,"a":120e-6},{"f":22,"a":40e-6},{"f":22.5,"a":130e-6},{"f":23,"a":70e-6},{"f":23.5,"a":150e-6},{"f":24,"a":50e-6},{"f":24.5,"a":200e-6},{"f":25,"a":80e-6},{"f":25.5,"a":160e-6},{"f":26,"a":50e-6},{"f":26.5,"a":180e-6},{"f":27,"a":90e-6},{"f":27.5,"a":150e-6},{"f":28,"a":60e-6},{"f":28.5,"a":220e-6},{"f":29,"a":80e-6},{"f":29.5,"a":170e-6},{"f":30,"a":50e-6},{"f":30.5,"a":250e-6},{"f":31,"a":90e-6},{"f":31.5,"a":190e-6},{"f":32,"a":60e-6},{"f":32.5,"a":270e-6},{"f":33,"a":100e-6},{"f":33.5,"a":200e-6},{"f":34,"a":70e-6},{"f":34.5,"a":230e-6},{"f":35,"a":100e-6},{"f":35.5,"a":300e-6},{"f":36,"a":60e-6},{"f":36.5,"a":210e-6},{"f":37,"a":90e-6},{"f":37.5,"a":240e-6},{"f":38,"a":50e-6},{"f":38.5,"a":180e-6},{"f":39,"a":100e-6},{"f":39.5,"a":250e-6},{"f":40,"a":70e-6},{"f":40.5,"a":220e-6},{"f":41,"a":110e-6},{"f":41.5,"a":340e-6},{"f":42,"a":80e-6},{"f":42.5,"a":260e-6},{"f":43,"a":120e-6},{"f":43.5,"a":300e-6},{"f":44,"a":90e-6},{"f":44.5,"a":420e-6},{"f":45,"a":140e-6},{"f":45.5,"a":350e-6},{"f":46,"a":60e-6},{"f":46.5,"a":250e-6},{"f":47,"a":120e-6},{"f":47.5,"a":320e-6},{"f":48,"a":80e-6},{"f":48.5,"a":300e-6},{"f":49,"a":100e-6},{"f":49.5,"a":200e-6},{"f":50,"a":70e-6},{"f":50.5,"a":180e-6},{"f":51,"a":60e-6},{"f":51.5,"a":120e-6},{"f":52,"a":50e-6},{"f":52.5,"a":100e-6},{"f":53,"a":40e-6},{"f":53.5,"a":90e-6},{"f":54,"a":50e-6},{"f":54.5,"a":80e-6},{"f":55,"a":40e-6},{"f":55.5,"a":90e-6},{"f":56,"a":30e-6},{"f":56.5,"a":80e-6},{"f":57,"a":40e-6},{"f":57.5,"a":100e-6},{"f":58,"a":30e-6},{"f":58.5,"a":80e-6},{"f":59,"a":40e-6},{"f":59.5,"a":70e-6},{"f":60,"a":30e-6},{"f":61,"a":80e-6},{"f":62,"a":30e-6},{"f":63,"a":70e-6},{"f":64,"a":30e-6},{"f":65,"a":80e-6},{"f":66,"a":30e-6},{"f":67,"a":70e-6},{"f":68,"a":25e-6},{"f":69,"a":70e-6},{"f":70,"a":30e-6},{"f":71,"a":65e-6},{"f":72,"a":25e-6},{"f":73,"a":70e-6},{"f":74,"a":20e-6},{"f":75,"a":60e-6},{"f":76,"a":25e-6},{"f":77,"a":60e-6},{"f":78,"a":20e-6},{"f":79,"a":65e-6},{"f":80,"a":25e-6},{"f":81,"a":50e-6},{"f":82,"a":20e-6},{"f":83,"a":45e-6},{"f":84,"a":15e-6},{"f":85,"a":40e-6},{"f":86,"a":15e-6},{"f":87,"a":35e-6},{"f":88,"a":10e-6},{"f":89,"a":30e-6},{"f":90,"a":10e-6},{"f":91,"a":30e-6},{"f":92,"a":10e-6},{"f":93,"a":25e-6},{"f":94,"a":10e-6},{"f":95,"a":30e-6},{"f":96,"a":8e-6},{"f":97,"a":20e-6},{"f":98,"a":8e-6},{"f":99,"a":20e-6},{"f":100,"a":6e-6},{"f":101,"a":15e-6},{"f":102,"a":5e-6},{"f":103,"a":12e-6},{"f":104,"a":4e-6},{"f":105,"a":10e-6},{"f":106,"a":4e-6},{"f":107,"a":10e-6},{"f":108,"a":3e-6},{"f":109,"a":8e-6},{"f":110,"a":3e-6},{"f":111,"a":8e-6},{"f":112,"a":3e-6},{"f":113,"a":7e-6},{"f":114,"a":2e-6},{"f":115,"a":6e-6},{"f":116,"a":2e-6},{"f":117,"a":5e-6},{"f":118,"a":2e-6},{"f":119,"a":5e-6},{"f":120,"a":2e-6},{"f":121,"a":4e-6},{"f":122,"a":2e-6},{"f":123,"a":4e-6},{"f":124,"a":1e-6},{"f":125,"a":4e-6},{"f":126,"a":1e-6},{"f":127,"a":3e-6},{"f":128,"a":1e-6},{"f":129,"a":3e-6},{"f":130,"a":1e-6}],
"c8":[{"f":0,"a":0.3e-3},{"f":0.6,"a":4e-3},{"f":1.2,"a":10.8e-3},{"f":1.9,"a":7.3e-3},{"f":2.7,"a":6.6e-3},{"f":3.6,"a":6.4e-3},{"f":4.5,"a":7.0e-3},{"f":5.4,"a":6.3e-3},{"f":6.3,"a":5.9e-3},{"f":7,"a":4.2e-3},{"f":7.6,"a":6.3e-3},{"f":8.5,"a":5.6e-3},{"f":9.9,"a":4.3e-3},{"f":11.2,"a":3.5e-3},{"f":12.6,"a":2.1e-3},{"f":14,"a":5.2e-3},{"f":15.3,"a":4.2e-3},{"f":16.2,"a":3.1e-3},{"f":17.7,"a":4.5e-3},{"f":18.6,"a":2.8e-3},{"f":19.5,"a":1.7e-3},{"f":20.2,"a":2.8e-3},{"f":21.1,"a":0},{"f":22.2,"a":2.8e-3},{"f":23,"a":2.4e-3},{"f":24.3,"a":3.5e-3},{"f":25.2,"a":1.0e-3},{"f":26.1,"a":1.4e-3},{"f":27.2,"a":1.0e-3},{"f":28.3,"a":1.7e-3},{"f":29.5,"a":0},{"f":30.6,"a":2.1e-3},{"f":31.7,"a":5.9e-3},{"f":32.8,"a":5.2e-3},{"f":33.9,"a":4.5e-3},{"f":34.8,"a":1.7e-3},{"f":35.7,"a":1.0e-3},{"f":36.9,"a":1.7e-3},{"f":37.8,"a":2.4e-3},{"f":38.7,"a":0.8e-3},{"f":39.8,"a":2.4e-3},{"f":40.9,"a":2.4e-3},{"f":42,"a":2.0e-3},{"f":43.2,"a":2.4e-3},{"f":44.2,"a":0.7e-3},{"f":45.4,"a":3.1e-3},{"f":46.8,"a":3.1e-3},{"f":47.9,"a":2.1e-3},{"f":49,"a":1.0e-3},{"f":50.3,"a":3.8e-3},{"f":51.7,"a":2.4e-3},{"f":53,"a":0.1e-3},{"f":54.4,"a":1.7e-3},{"f":55.7,"a":2.8e-3},{"f":57.1,"a":1.3e-3},{"f":58.4,"a":1.9e-3},{"f":60.2,"a":2.4e-3},{"f":61.6,"a":1.7e-3},{"f":62.6,"a":0},{"f":64.3,"a":2.8e-3},{"f":65.6,"a":2.1e-3},{"f":67,"a":2.4e-3},{"f":68.3,"a":0.3e-3},{"f":69.7,"a":2.1e-3},{"f":71,"a":1.0e-3},{"f":72.4,"a":1.7e-3},{"f":74.2,"a":2.9e-3},{"f":75.5,"a":2.1e-3},{"f":76.9,"a":1.7e-3},{"f":78.2,"a":1.5e-3},{"f":79.6,"a":0.7e-3},{"f":80.9,"a":1.5e-3},{"f":82.3,"a":1.0e-3},{"f":83.6,"a":0.8e-3},{"f":85,"a":0.3e-3},{"f":86.3,"a":0.8e-3},{"f":87.7,"a":1.4e-3},{"f":89,"a":1.5e-3},{"f":90.4,"a":1.0e-3},{"f":91.8,"a":0},{"f":93.1,"a":0.7e-3},{"f":94.5,"a":0.6e-3},{"f":95.8,"a":0.1e-3},{"f":97.2,"a":0.4e-3},{"f":98.5,"a":0.1e-3},{"f":100.3,"a":0.3e-3},{"f":102.1,"a":0.25e-3},{"f":104,"a":0},{"f":105.8,"a":0.2e-3},{"f":107.6,"a":0.15e-3},{"f":109.4,"a":0},{"f":111.2,"a":0.15e-3},{"f":114,"a":0.15e-3},{"f":116.7,"a":0.1e-3},{"f":119.4,"a":0},{"f":122,"a":0.05e-3},{"f":126,"a":0.02e-3},{"f":130,"a":0}]
},
"columns":2,
"align":"each",
"bounds":"flush",
"spacing":{"row":139,"column":205},
"resolve":{"scale":{"x":"independent","y":"independent","color":"independent"},"axis":{"x":"independent","y":"independent"},"legend":{"color":"independent"}},
"concat":[
{"width":481,"height":68,"data":{"name":"c1"},"mark":{"type":"line","strokeWidth":2.5},
 "encoding":{"x":{"field":"f","type":"quantitative","scale":{"domain":[0,130],"nice":false},"axis":{"title":"Frequency (Hz)","values":[0,10,20,30,40,50,60,70,80,90,100,110,120,130]}},
 "y":{"field":"a","type":"quantitative","scale":{"domain":[0,8e-5],"nice":false},"axis":{"title":["Acceleration","( m/s²)"],"values":[0,2e-5,4e-5,6e-5,8e-5],"labelExpr":"upper(format(datum.value,'.0e'))","labelFontSize":17}},
 "color":{"datum":"CH. 1","type":"nominal","scale":{"range":["#C00000"]},"legend":{"title":null,"orient":"none","legendX":322,"legendY":13}}}},
{"width":480,"height":69,"data":{"name":"c5"},"mark":{"type":"line","strokeWidth":2.5},
 "encoding":{"x":{"field":"f","type":"quantitative","scale":{"domain":[0,130],"nice":false},"axis":{"title":"Frequency (Hz)","values":[0,10,20,30,40,50,60,70,80,90,100,110,120,130]}},
 "y":{"field":"a","type":"quantitative","scale":{"domain":[0,8e-5],"nice":false},"axis":{"title":["Acceleration","(m/s²)"],"values":[0,4e-5,8e-5],"labelExpr":"upper(format(datum.value,'.0e'))"}},
 "color":{"datum":"CH. 5","type":"nominal","scale":{"range":["#C00000"]},"legend":{"title":null,"orient":"none","legendX":330,"legendY":11}}}},
{"width":481,"height":74,"data":{"name":"c2"},"mark":{"type":"line","strokeWidth":2.5},
 "encoding":{"x":{"field":"f","type":"quantitative","scale":{"domain":[0,130],"nice":false},"axis":{"title":"Frequency (Hz)","titlePadding":20,"values":[0,10,20,30,40,50,60,70,80,90,100,110,120,130]}},
 "y":{"field":"a","type":"quantitative","scale":{"domain":[0,4e-4],"nice":false},"axis":{"title":["Acceleration","(m/s²)"],"values":[0,2e-4,4e-4],"labelExpr":"upper(format(datum.value,'.0e'))"}},
 "color":{"datum":"CH. 2","type":"nominal","scale":{"range":["#C00000"]},"legend":{"title":null,"orient":"none","legendX":375,"legendY":13}}}},
{"width":480,"height":74,"data":{"name":"c6"},"mark":{"type":"line","strokeWidth":2.5},
 "encoding":{"x":{"field":"f","type":"quantitative","scale":{"domain":[0,130],"nice":false},"axis":{"title":"Frequency (Hz)","values":[0,10,20,30,40,50,60,70,80,90,100,110,120,130]}},
 "y":{"field":"a","type":"quantitative","scale":{"domain":[0,8e-4],"nice":false},"axis":{"title":["Acceleration","(m/s²)"],"values":[0,4e-4,8e-4],"labelExpr":"upper(format(datum.value,'.0e'))"}},
 "color":{"datum":"CH. 6","type":"nominal","scale":{"range":["#C00000"]},"legend":{"title":null,"orient":"none","legendX":334,"legendY":20}}}},
{"width":481,"height":71,"data":{"name":"c3"},"mark":{"type":"line","strokeWidth":2.5},
 "encoding":{"x":{"field":"f","type":"quantitative","scale":{"domain":[0,130],"nice":false},"axis":{"title":"Frequency (Hz)","values":[0,10,20,30,40,50,60,70,80,90,100,110,120,130]}},
 "y":{"field":"a","type":"quantitative","scale":{"domain":[0,1.6e-4],"nice":false},"axis":{"title":["Acceleration","(m/s²)"],"values":[0,8e-5,1.6e-4],"labelExpr":"upper(format(datum.value,'.0e'))"}},
 "color":{"datum":"CH. 3","type":"nominal","scale":{"range":["#C00000"]},"legend":{"title":null,"orient":"none","legendX":332,"legendY":15}}}},
{"width":480,"height":70,"data":{"name":"c7"},"mark":{"type":"line","strokeWidth":2.5},
 "encoding":{"x":{"field":"f","type":"quantitative","scale":{"domain":[0,130],"nice":false},"axis":{"title":"Frequency (Hz)","values":[0,10,20,30,40,50,60,70,80,90,100,110,120,130]}},
 "y":{"field":"a","type":"quantitative","scale":{"domain":[0,6e-4],"nice":false},"axis":{"title":["Acceleration","(m/s²)"],"values":[0,2e-4,4e-4,6e-4],"labelExpr":"upper(format(datum.value,'.0e'))"}},
 "color":{"datum":"CH. 7","type":"nominal","scale":{"range":["#C00000"]},"legend":{"title":null,"orient":"none","legendX":336,"legendY":15}}}},
{"width":481,"height":66,"data":{"name":"c4"},"mark":{"type":"line","strokeWidth":2.5},
 "encoding":{"x":{"field":"f","type":"quantitative","scale":{"domain":[0,130],"nice":false},"axis":{"title":"Frequency (Hz)","titlePadding":17,"values":[0,10,20,30,40,50,60,70,80,90,100,110,120,130]}},
 "y":{"field":"a","type":"quantitative","scale":{"domain":[0,6e-4],"nice":false},"axis":{"title":["Acceleration","(m/s²)"],"values":[0,2e-4,4e-4,6e-4],"labelExpr":"upper(format(datum.value,'.0e'))"}},
 "color":{"datum":"CH. 4","type":"nominal","scale":{"range":["#C00000"]},"legend":{"title":null,"orient":"none","legendX":341,"legendY":3}}}},
{"width":480,"height":72,"data":{"name":"c8"},"mark":{"type":"line","strokeWidth":2},
 "encoding":{"x":{"field":"f","type":"quantitative","scale":{"domain":[0,130],"nice":false},"axis":{"title":"Frequency (Hz)","values":[0,10,20,30,40,50,60,70,80,90,100,110,120,130]}},
 "y":{"field":"a","type":"quantitative","scale":{"domain":[0,0.015],"nice":false},"axis":{"title":["Acceleration","(m/s²)"],"values":[0,0.005,0.01,0.015],"labelExpr":"datum.value > 0.012 ? '2E-2' : upper(format(datum.value,'.0e'))"}},
 "color":{"datum":"CH. 8","type":"nominal","scale":{"range":["#C00000"]},"legend":{"title":null,"orient":"none","legendX":345,"legendY":3}}}}
]
}
